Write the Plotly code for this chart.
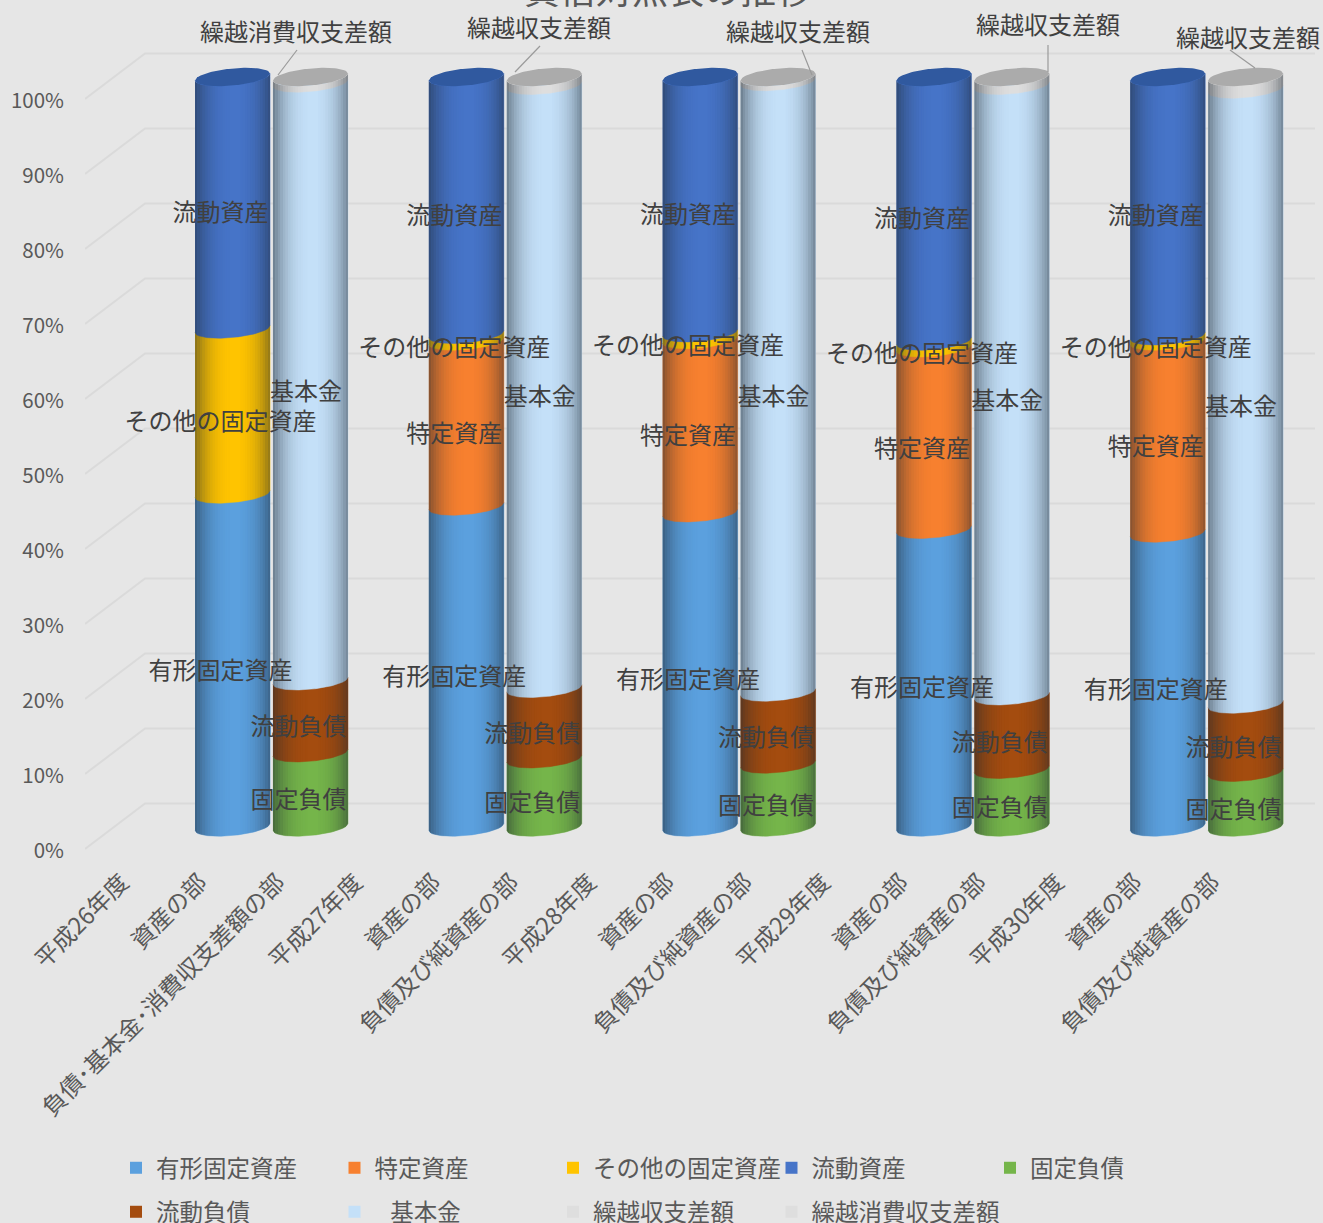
import plotly.graph_objects as go

# ---------- data (percent of each column) ----------
years = ["平成26年度", "平成27年度", "平成28年度", "平成29年度", "平成30年度"]
asset_label = "資産の部"
liab_labels = ["負債･基本金･消費収支差額の部", "負債及び純資産の部", "負債及び純資産の部",
               "負債及び純資産の部", "負債及び純資産の部"]

tangible = [44.4, 42.8, 41.9, 39.7, 39.2]
specified = [0.0, 22.0, 23.1, 24.2, 25.6]
other_fixed = [22.0, 0.9, 0.9, 0.9, 0.7]
current_assets = [33.6, 34.3, 34.1, 35.2, 34.5]

fixed_liab = [9.9, 9.1, 8.4, 7.7, 7.3]
current_liab = [9.6, 9.4, 9.6, 9.8, 9.1]
basic_fund = [79.7, 80.4, 81.4, 81.4, 82.0]
carry_balance = [0.0, 1.1, 0.6, 1.1, 1.6]
carry_consume = [0.8, 0.0, 0.0, 0.0, 0.0]

y_ticks = list(range(0, 101, 10))
y_ticktext = [f"{v}%" for v in y_ticks]

# ---------- styling / layout ----------
BG = "#e6e6e6"
TXT = "#595959"
LBL = "#404040"
FONT = "Noto Sans CJK JP"
W, H = 1323, 1223
PLOT_L, PLOT_R, PLOT_B = 85, 1315, 860
SLOT0, SLOT = 154.6, 77.93
PX_PER = 7.5
Z_BAR, Z_TICK, Z_LABEL = 827, 851, 839
HALF = 37.5 / SLOT
ELL_B, ELL_SKEW = 8.5 / PX_PER, 3.5 / PX_PER


def px2slot(p):
    return (p - SLOT0) / SLOT


def yrange(z):
    return [(z - PLOT_B) / PX_PER, z / PX_PER]


left_series = [
    ("有形固定資産", tangible, "#5ba0de", "legend"),
    ("特定資産", specified, "#f7802f", "legend"),
    ("その他の固定資産", other_fixed, "#ffc400", "legend"),
    ("流動資産", current_assets, "#4674c8", "legend"),
]
right_series = [
    ("固定負債", fixed_liab, "#75b54a", "legend"),
    ("流動負債", current_liab, "#a44c0f", "legend2"),
    ("\u00a0\u00a0\u00a0基本金", basic_fund, "#c4e0f8", "legend2"),
    ("繰越収支差額", carry_balance, "#dedede", "legend2"),
    ("繰越消費収支差額", carry_consume, "#dedede", "legend3"),
]

x_left = [3 * i + 1 for i in range(5)]
x_right = [3 * i + 2 for i in range(5)]

N = 40


def arc_y(v, u):
    return v + ELL_SKEW * u - ELL_B * (max(0.0, 1 - u * u)) ** 0.5


def arc(cx, v):
    """front arc of the cylinder section at value v, left to right"""
    xs, ys = [], []
    for k in range(N + 1):
        u = -1 + 2 * k / N
        xs.append(cx + u * HALF)
        ys.append(arc_y(v, u))
    return xs, ys


def strip(cx, v0, v1, ua, ub, n=4):
    xs, ys = [], []
    for v, uu in ((v0, [ua + (ub - ua) * k / n for k in range(n + 1)]),
                  (v1, [ub - (ub - ua) * k / n for k in range(n + 1)])):
        for u in uu:
            xs.append(cx + u * HALF)
            ys.append(arc_y(v, u))
    return xs, ys


fig = go.Figure()

# wall grid on the base axis (drawn under everything), from the axis ticks
GRID_DY = 2 / PX_PER
gx, gy = [], []
bx0, bx1, fx = px2slot(145), px2slot(PLOT_R), px2slot(PLOT_L)
back = 45.5 / PX_PER
for v in y_ticks:
    gx += [fx, bx0, bx1, None]
    gy += [v + GRID_DY, v + GRID_DY + back, v + GRID_DY + back, None]
fig.add_trace(go.Scatter(x=gx, y=gy, yaxis="y", mode="lines", showlegend=False, hoverinfo="skip",
                         line=dict(color="#dadada", width=2)))

# native stacked bars (also give the legend)
for xs, group in ((x_left, left_series), (x_right, right_series)):
    for name, vals, color, leg in group:
        fig.add_trace(go.Bar(x=xs, y=vals, yaxis="y2", name=name, marker=dict(color=color, line=dict(width=0)),
                             width=0.9, legend=leg, hoverinfo="skip", showlegend=True))

# rounded cylinder sections built from the same values
for xs, group in ((x_left, left_series), (x_right, right_series)):
    base = [0.0] * 5
    for name, vals, color, leg in group:
        px, py = [], []
        for i, v in enumerate(vals):
            if v > 0:
                a_x, a_y = arc(xs[i], base[i])
                b_x, b_y = arc(xs[i], base[i] + v)
                px += a_x + b_x[::-1] + [None]
                py += a_y + b_y[::-1] + [None]
            base[i] += v
        if px:
            fig.add_trace(go.Scatter(x=px, y=py, yaxis="y2", mode="lines", fill="toself", fillcolor=color,
                                     line=dict(width=0.5, color=color), showlegend=False, hoverinfo="skip"))

# cylinder side shading
STRIPS = 30
for s in range(STRIPS):
    ua, ub = -1 + 2 * s / STRIPS, -1 + 2 * (s + 1) / STRIPS
    um = (ua + ub) / 2
    al = 0.5 * abs(um) ** 2.6 + (0.05 * abs(um) if um < 0 else 0)
    if al < 0.005:
        continue
    px, py = [], []
    for xs, group in ((x_left, left_series), (x_right, right_series)):
        for i, cx in enumerate(xs):
            total = sum(g[1][i] for g in group)
            a, b = strip(cx, 0, total, ua, ub)
            px += a + [None]
            py += b + [None]
    fig.add_trace(go.Scatter(x=px, y=py, yaxis="y2", mode="lines", fill="toself",
                             fillcolor=f"rgba(30,40,50,{al:.3f})",
                             line=dict(width=0), showlegend=False, hoverinfo="skip"))

# top ellipses
for xs, col in ((x_left, "#30599f"), (x_right, "#ababab")):
    px, py = [], []
    for i, cx in enumerate(xs):
        a_x, a_y = arc(cx, 100)
        for k in range(N + 1):
            u = 1 - 2 * k / N
            a_x.append(cx + u * HALF)
            a_y.append(100 + ELL_SKEW * u + ELL_B * (max(0.0, 1 - u * u)) ** 0.5)
        px += a_x + [None]
        py += a_y + [None]
    fig.add_trace(go.Scatter(x=px, y=py, yaxis="y2", mode="lines", fill="toself", fillcolor=col,
                             line=dict(width=0), showlegend=False, hoverinfo="skip"))

# leader lines of the callouts
lead_from_x = [297, 540, 802, 1048, 1230]
lead_from_y = [50, 46, 50, 45, 50]
lead_to_x = [278, 515, 812, 1048, 1255]
lead_to_y = [75, 72, 75, 72, 68]
lx, ly = [], []
for a, b, c, d in zip(lead_from_x, lead_from_y, lead_to_x, lead_to_y):
    lx += [px2slot(a), px2slot(c), None]
    ly += [(Z_BAR - b) / PX_PER, (Z_BAR - d) / PX_PER, None]
fig.add_trace(go.Scatter(x=lx, y=ly, yaxis="y2", mode="lines", line=dict(color="#9a9a9a", width=1.2),
                         showlegend=False, hoverinfo="skip", cliponaxis=False))

# inside data labels
lab_dx = {"基本金": -4.5}
for xs, group in ((x_left, left_series), (x_right, right_series)):
    base = [0.0] * 5
    for name, vals, color, leg in group:
        clean = name.replace("\u00a0", "")
        tx, ty = [], []
        for i, v in enumerate(vals):
            if v > 0 and not clean.startswith("繰越"):
                tx.append(xs[i] + lab_dx.get(clean, -12) / SLOT)
                ty.append(base[i] + v / 2)
            base[i] += v
        if tx:
            fig.add_trace(go.Scatter(x=tx, y=ty, yaxis="y3", mode="text", text=[clean] * len(tx),
                                     textposition="middle center", showlegend=False, hoverinfo="skip",
                                     textfont=dict(family=FONT, size=24, color=LBL), cliponaxis=False))

# callout texts for the thin top segments
call_text = ["繰越消費収支差額", "繰越収支差額", "繰越収支差額", "繰越収支差額", "繰越収支差額"]
call_cx = [296, 539, 798, 1048, 1248]
call_cy = [30, 26, 30, 24, 36]
anns = []
for t, cx, cy in zip(call_text, call_cx, call_cy):
    anns.append(dict(text=t, x=cx / W, y=1 - cy / H, xref="paper", yref="paper", xanchor="center", yanchor="middle",
                     showarrow=False, font=dict(family=FONT, size=24, color=LBL)))
anns.append(dict(text="貸借対照表の推移", xref="paper", yref="paper", x=668 / W, y=1 + 12 / H,
                 xanchor="center", yanchor="middle", showarrow=False, font=dict(family=FONT, size=36, color=TXT)))

# x tick labels
LABEL_SHIFT = -0.42
tick_pos, tick_txt = [], []
for i in range(5):
    tick_pos += [3 * i + LABEL_SHIFT, 3 * i + 1 + LABEL_SHIFT, 3 * i + 2 + LABEL_SHIFT]
    tick_txt += [years[i], asset_label, liab_labels[i]]

leg_common = dict(orientation="h", bgcolor="rgba(0,0,0,0)", borderwidth=0, xref="container", yref="container",
                  xanchor="left", yanchor="middle", entrywidth=173.5, entrywidthmode="pixels",
                  font=dict(family=FONT, size=23.5, color=TXT), traceorder="normal")
LEG_X, LEG_COL = 116, 218.5

dom_x = [PLOT_L / W, PLOT_R / W]
dom_y = [1 - PLOT_B / H, 1.0]
fig.update_layout(
    width=W, height=H, paper_bgcolor=BG, plot_bgcolor=BG, barmode="stack", bargap=0,
    margin=dict(l=0, r=0, t=0, b=0, autoexpand=False),
    font=dict(family=FONT, color=TXT),
    annotations=anns,
    legend=dict(x=LEG_X / W, y=1 - 1168 / H, **leg_common),
    legend2=dict(x=LEG_X / W, y=1 - 1212 / H, **leg_common),
    legend3=dict(x=(LEG_X + 3 * LEG_COL) / W, y=1 - 1212 / H,
                 **{**leg_common, "entrywidth": 240}),
    xaxis=dict(domain=dom_x, range=[px2slot(PLOT_L), px2slot(PLOT_R)], tickvals=tick_pos, ticktext=tick_txt,
               tickangle=-45, showgrid=False, zeroline=False, showline=False, ticks="", anchor="y",
               ticklabelstandoff=3, tickfont=dict(family=FONT, size=23.6, color=TXT)),
    yaxis=dict(domain=dom_y, range=yrange(Z_TICK), tickvals=y_ticks, ticktext=y_ticktext,
               showgrid=False, zeroline=False, showline=False, ticks="", ticklabelstandoff=20,
               tickfont=dict(family=FONT, size=20.5, color=TXT), anchor="x", side="left"),
    yaxis2=dict(domain=dom_y, range=yrange(Z_BAR), overlaying="y", visible=False, anchor="x"),
    yaxis3=dict(domain=dom_y, range=yrange(Z_LABEL), overlaying="y", visible=False, anchor="x"),
)

fig.write_html("out.html", post_script="document.body.style.margin='0';document.body.style.background='%s';" % BG,
               config=dict(displayModeBar=False))
